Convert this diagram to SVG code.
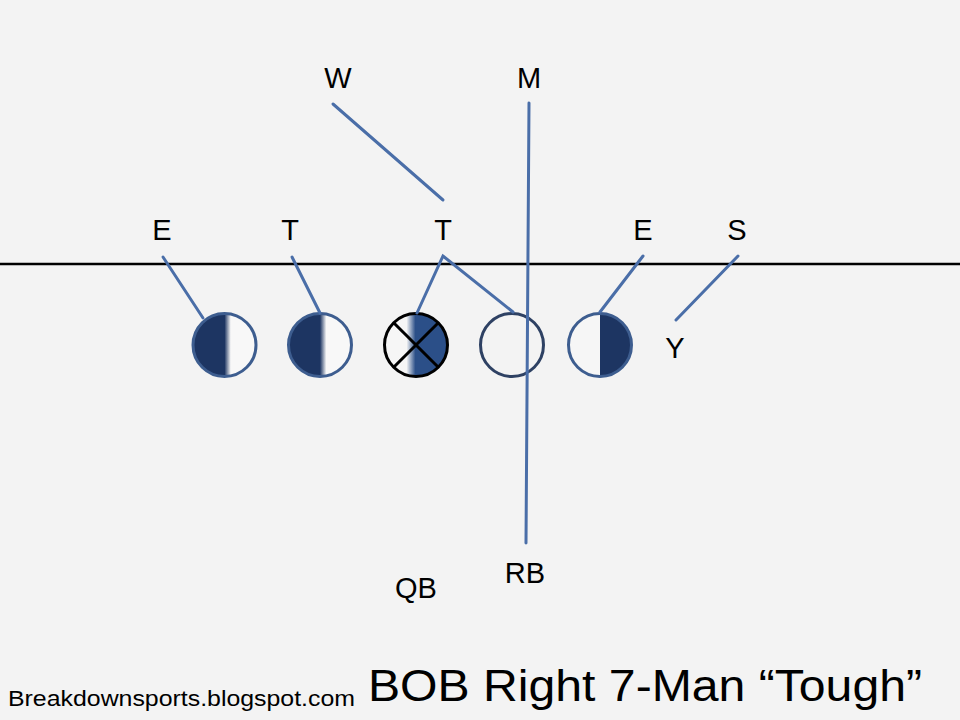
<svg xmlns="http://www.w3.org/2000/svg" width="960" height="720" viewBox="0 0 960 720">
<defs>
<linearGradient id="gL" x1="0" y1="0" x2="1" y2="0">
<stop offset="0" stop-color="#1d3562"/><stop offset="0.5" stop-color="#1d3562"/><stop offset="0.6" stop-color="#f8f8f8"/><stop offset="1" stop-color="#f8f8f8"/>
</linearGradient>
<linearGradient id="gC" x1="0" y1="0" x2="1" y2="0">
<stop offset="0" stop-color="#f6f6f6"/><stop offset="0.35" stop-color="#f6f6f6"/><stop offset="0.49" stop-color="#2b4f88"/><stop offset="1" stop-color="#2b4f88"/>
</linearGradient>
<linearGradient id="gR" x1="0" y1="0" x2="1" y2="0">
<stop offset="0" stop-color="#f6f6f6"/><stop offset="0.5" stop-color="#f6f6f6"/><stop offset="0.5" stop-color="#1d3562"/><stop offset="1" stop-color="#1d3562"/>
</linearGradient>
<style>
.lbl{font-family:"Liberation Sans",Arial,sans-serif;font-size:29px;fill:#000;text-anchor:middle}
.ln{stroke:#4a6ea8;stroke-width:3;fill:none;stroke-linecap:round}
.pl{stroke:#3d5d8f;stroke-width:3}
</style>
</defs>
<rect width="960" height="720" fill="#f3f3f3"/>
<line x1="0" y1="264" x2="960" y2="264" stroke="#000" stroke-width="2.5"/>
<g id="p1"><circle class="pl" cx="224.5" cy="345" r="31.5" fill="url(#gL)"/></g>
<g id="p2"><circle class="pl" cx="320" cy="345" r="31.5" fill="url(#gL)"/></g>
<g id="p3">
<circle cx="416" cy="345" r="31.5" fill="url(#gC)" stroke="#000" stroke-width="3"/>
<line x1="393.7" y1="322.7" x2="438.3" y2="367.3" stroke="#000" stroke-width="3"/>
<line x1="438.3" y1="322.7" x2="393.7" y2="367.3" stroke="#000" stroke-width="3"/>
</g>
<g id="p4"><circle cx="512" cy="345" r="31.5" fill="none" stroke="#2e4163" stroke-width="3"/></g>
<g id="p5"><circle class="pl" cx="600" cy="345" r="31.5" fill="url(#gR)"/></g>
<g id="connectors">
<line class="ln" x1="163" y1="257" x2="203" y2="318"/>
<line class="ln" x1="292" y1="257" x2="320" y2="313"/>
<polyline class="ln" points="417,313 443,256 513,312"/>
<line class="ln" x1="333" y1="104" x2="443" y2="200"/>
<line class="ln" x1="529" y1="103" x2="526" y2="543"/>
<line class="ln" x1="643" y1="256" x2="600" y2="312"/>
<line class="ln" x1="738" y1="256" x2="676" y2="320"/>
</g>
<g id="labels">
<text class="lbl" x="338" y="88">W</text>
<text class="lbl" x="529" y="88">M</text>
<text class="lbl" x="162" y="240">E</text>
<text class="lbl" x="290" y="240">T</text>
<text class="lbl" x="443" y="240">T</text>
<text class="lbl" x="643" y="240">E</text>
<text class="lbl" x="737" y="240">S</text>
<text class="lbl" x="675" y="358">Y</text>
<text class="lbl" x="416" y="598">QB</text>
<text class="lbl" x="525" y="583">RB</text>
</g>
<text x="8" y="706" font-family="Liberation Sans,Arial,sans-serif" font-size="22" textLength="347" lengthAdjust="spacingAndGlyphs">Breakdownsports.blogspot.com</text>
<text x="368" y="701" font-family="Liberation Sans,Arial,sans-serif" font-size="45" textLength="554" lengthAdjust="spacingAndGlyphs">BOB Right 7-Man “Tough”</text>
</svg>
